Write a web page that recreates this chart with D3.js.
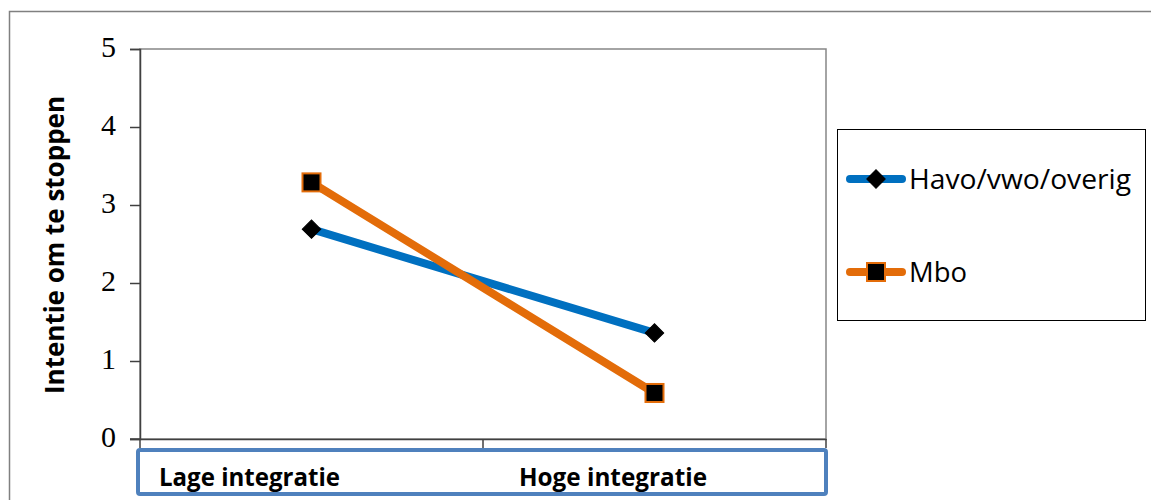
<!DOCTYPE html>
<html>
<head>
<meta charset="utf-8">
<script src="https://cdn.jsdelivr.net/npm/d3@7"></script>
<style>
  body { margin: 0; background: #fff; }
  svg { display: block; }
</style>
</head>
<body>
<svg id="chart" width="1151" height="500"></svg>
<script>
// Categories along the x axis
const categories = ["Lage integratie", "Hoge integratie"];
// Series names
const seriesNames = ["Havo/vwo/overig", "Mbo"];
// Mean intention to quit per category
const havoValues = [2.69, 1.36];
const mboValues = [3.29, 0.59];
// Y tick values
const yTicks = [0, 1, 2, 3, 4, 5];

const series = [
  { name: seriesNames[0], values: havoValues, color: "#0070c0", marker: "diamond" },
  { name: seriesNames[1], values: mboValues, color: "#e36c09", marker: "square" }
];

const sansFont = "'Open Sans', 'Liberation Sans', sans-serif";
const svg = d3.select("#chart");
const plot = { left: 140, top: 49, right: 826, bottom: 439 };

// Outer chart frame
svg.append("path")
  .attr("d", "M9.5,500 V11.5 H1151")
  .attr("fill", "none").attr("stroke", "#808080").attr("stroke-width", 1.5);

const x = d3.scaleBand().domain(categories).range([plot.left, plot.right]);
const y = d3.scaleLinear().domain([0, 5]).range([plot.bottom, plot.top]);

// Plot area border
svg.append("rect")
  .attr("x", plot.left).attr("y", plot.top)
  .attr("width", plot.right - plot.left).attr("height", plot.bottom - plot.top)
  .attr("fill", "none").attr("stroke", "#868686").attr("stroke-width", 1.5);

// Y axis
const yAxis = svg.append("g")
  .attr("transform", `translate(${plot.left},0)`)
  .call(d3.axisLeft(y).tickValues(yTicks).tickSize(10).tickPadding(14).tickFormat(d3.format("d")));
yAxis.select(".domain").attr("stroke", "#404040").attr("stroke-width", 1.5);
yAxis.selectAll(".tick line").attr("stroke", "#404040").attr("stroke-width", 1.5);
yAxis.selectAll(".tick text")
  .attr("font-family", "'Liberation Serif', 'Times New Roman', serif")
  .attr("font-size", 30).attr("fill", "#000")
  .attr("dy", "0.25em");

// X axis line with category separators
const xAxis = svg.append("g")
  .attr("transform", `translate(0,${plot.bottom})`)
  .call(d3.axisBottom(x).tickSize(0).tickFormat(""));
xAxis.select(".domain").attr("stroke", "#404040").attr("stroke-width", 1.5);
svg.append("line")
  .attr("x1", plot.left - 10).attr("x2", plot.left)
  .attr("y1", plot.bottom).attr("y2", plot.bottom)
  .attr("stroke", "#404040").attr("stroke-width", 1.5);
const edges = [x.range()[0], ...categories.slice(1).map(c => x(c)), x.range()[1]];
svg.selectAll("line.sep").data(edges).enter().append("line")
  .attr("class", "sep")
  .attr("x1", d => d).attr("x2", d => d)
  .attr("y1", plot.bottom).attr("y2", plot.bottom + 9)
  .attr("stroke", "#404040").attr("stroke-width", 1.5);

// Category label box
svg.append("rect")
  .attr("x", plot.left - 2).attr("y", 450)
  .attr("width", plot.right - plot.left + 2).attr("height", 44)
  .attr("fill", "none").attr("stroke", "#4f81bd").attr("stroke-width", 4).attr("rx", 2);
const catInset = [19, 36];
const catWidth = [181, 188];
svg.selectAll("text.cat").data(categories).enter().append("text")
  .attr("class", "cat")
  .attr("x", (d, i) => x(d) + catInset[i])
  .attr("y", 486)
  .attr("font-family", sansFont)
  .attr("font-weight", "bold").attr("font-size", 25)
  .attr("textLength", (d, i) => catWidth[i])
  .attr("lengthAdjust", "spacingAndGlyphs")
  .text(d => d);

// Y axis title
svg.append("text")
  .attr("transform", `translate(64,${(plot.top + plot.bottom) / 2 + 1}) rotate(-90)`)
  .attr("text-anchor", "middle")
  .attr("font-family", sansFont)
  .attr("font-weight", "bold").attr("font-size", 26)
  .attr("textLength", 298)
  .attr("lengthAdjust", "spacingAndGlyphs")
  .text("Intentie om te stoppen");

const cx = d => x(d) + x.bandwidth() / 2;
const line = d3.line().x((d, i) => cx(categories[i])).y(d => y(d));

function drawMarker(g, type, color, px, py) {
  if (type === "diamond") {
    g.append("path")
      .attr("d", d3.symbol().type(d3.symbolSquare).size(170)())
      .attr("transform", `translate(${px},${py}) rotate(45)`)
      .attr("fill", "#000").attr("stroke", "#000").attr("stroke-width", 1);
  } else {
    g.append("rect")
      .attr("x", px - 9).attr("y", py - 9).attr("width", 18).attr("height", 18)
      .attr("fill", "#000").attr("stroke", color).attr("stroke-width", 2);
  }
}

// Lines and markers
series.forEach(s => {
  const g = svg.append("g");
  g.append("path")
    .datum(s.values)
    .attr("d", line)
    .attr("fill", "none").attr("stroke", s.color)
    .attr("stroke-width", 8).attr("stroke-linecap", "round");
  s.values.forEach((v, i) => drawMarker(g, s.marker, s.color, cx(categories[i]), y(v)));
});

// Legend
const legend = svg.append("g");
legend.append("rect")
  .attr("x", 837.5).attr("y", 129.5).attr("width", 308).attr("height", 191)
  .attr("fill", "#fff").attr("stroke", "#000").attr("stroke-width", 1);
const legendY = [179, 272];
const legendTextWidth = [222, 58];
series.forEach((s, i) => {
  const ly = legendY[i];
  legend.append("line")
    .attr("x1", 850).attr("x2", 902).attr("y1", ly).attr("y2", ly)
    .attr("stroke", s.color).attr("stroke-width", 8).attr("stroke-linecap", "round");
  drawMarker(legend, s.marker, s.color, 876, ly);
  legend.append("text")
    .attr("x", 909).attr("y", ly + 10)
    .attr("font-family", sansFont)
    .attr("font-size", 27)
    .attr("textLength", legendTextWidth[i])
    .attr("lengthAdjust", "spacingAndGlyphs")
    .text(s.name);
});
</script>
</body>
</html>
